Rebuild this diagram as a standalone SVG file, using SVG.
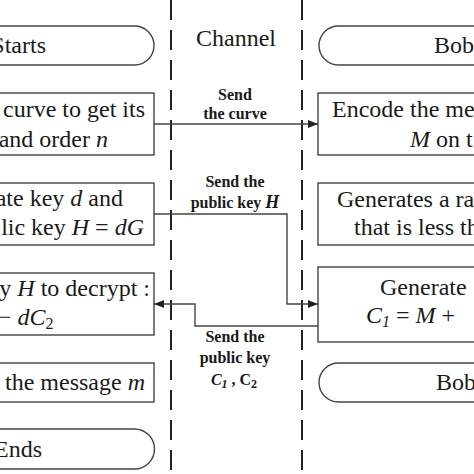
<svg xmlns="http://www.w3.org/2000/svg" width="474" height="474" viewBox="0 0 474 474">
<defs>
<marker id="ah" viewBox="0 0 10 8" refX="10" refY="4" markerWidth="10" markerHeight="8" markerUnits="userSpaceOnUse" orient="auto"><path d="M0,0 L10,4 L0,8 z" fill="#222"/></marker>
</defs>
<style>
.box{fill:#fff;stroke:#444;stroke-width:1.4}
.t{font-family:"Liberation Serif","Times New Roman",serif;font-size:24px;fill:#1a1a1a}
.e{text-anchor:end}
.l{font-family:"Liberation Serif","Times New Roman",serif;font-size:16px;font-weight:bold;fill:#1a1a1a;text-anchor:middle}
.i{font-style:italic}
.dash{stroke:#222;stroke-width:2;stroke-dasharray:20 10;fill:none}
.c{stroke:#444;stroke-width:1.4;fill:none}
</style>
<rect width="474" height="474" fill="#fff"/>
<g id="lanes">
<line class="dash" x1="171" y1="0" x2="171" y2="474"/>
<line class="dash" x1="302" y1="0" x2="302" y2="474"/>
<text class="t" x="236" y="46" text-anchor="middle">Channel</text>
</g>
<g id="alice-start">
<path class="box" d="M-60,26 H134.5 A19.5,19.5 0 0 1 134.5,65 H-60 Z"/>
<text class="t e" x="46" y="53">Starts</text>
</g>
<g id="alice-curve">
<rect class="box" x="-60" y="93" width="214" height="62"/>
<text class="t e" x="145" y="117">curve to get its</text>
<text class="t e" x="108" y="147">and order <tspan class="i">n</tspan></text>
</g>
<g id="alice-key">
<rect class="box" x="-60" y="183" width="214" height="62"/>
<text class="t e" x="123" y="206">ate key <tspan class="i">d</tspan> and</text>
<text class="t e" x="144" y="235">lic key <tspan class="i">H</tspan> = <tspan class="i">dG</tspan></text>
</g>
<g id="alice-decrypt">
<rect class="box" x="-60" y="273" width="214" height="62"/>
<text class="t e" x="150" y="296">y <tspan class="i">H</tspan> to decrypt :</text>
<text class="t" x="-2" y="325">− <tspan class="i">dC</tspan><tspan font-size="16" dy="4">2</tspan></text>
</g>
<g id="alice-message">
<rect class="box" x="-60" y="363" width="214" height="39"/>
<text class="t e" x="145" y="390">the message <tspan class="i">m</tspan></text>
</g>
<g id="alice-end">
<path class="box" d="M-60,429 H134.5 A20,20 0 0 1 134.5,469 H-60 Z"/>
<text class="t e" x="42" y="457">Ends</text>
</g>
<g id="bob-start">
<path class="box" d="M530,26 H338.5 A19.5,19.5 0 0 0 338.5,65 H530 Z"/>
<text class="t" x="434" y="53">Bob</text>
</g>
<g id="bob-encode">
<rect class="box" x="318" y="93" width="220" height="62"/>
<text class="t" x="332" y="117">Encode the me</text>
<text class="t" x="410" y="147"><tspan class="i">M</tspan> on t</text>
</g>
<g id="bob-random">
<rect class="box" x="318" y="183" width="220" height="62"/>
<text class="t" x="337" y="207">Generates a ra</text>
<text class="t" x="354" y="235">that is less th</text>
</g>
<g id="bob-cipher">
<rect class="box" x="318" y="267" width="220" height="75"/>
<text class="t" x="380" y="295">Generate</text>
<text class="t" x="366" y="323"><tspan class="i">C</tspan><tspan class="i" font-size="16" dy="4">1</tspan><tspan dy="-4"> = </tspan><tspan class="i">M</tspan> +</text>
</g>
<g id="bob-end">
<path class="box" d="M530,363 H338.5 A19.5,19.5 0 0 0 338.5,402 H530 Z"/>
<text class="t" x="436" y="390">Bob</text>
</g>
<g id="connectors">
<line class="c" x1="154" y1="124" x2="318" y2="124" marker-end="url(#ah)"/>
<path class="c" d="M154,214 H287 V304 H318" marker-end="url(#ah)"/>
<path class="c" d="M318,326 H195 V304 H154" marker-end="url(#ah)"/>
<text class="l" x="235" y="100">Send</text>
<text class="l" x="235" y="119">the curve</text>
<text class="l" x="235" y="187">Send the</text>
<text class="l" x="235" y="208">public key <tspan class="i" font-size="18">H</tspan></text>
<text class="l" x="235" y="342">Send the</text>
<text class="l" x="235" y="363">public key</text>
<text class="l" x="234" y="385" font-size="19"><tspan class="i">C</tspan><tspan class="i" font-size="12" dy="3">1</tspan><tspan dy="-3"> , C</tspan><tspan font-size="12" dy="3">2</tspan></text>
</g>
</svg>
